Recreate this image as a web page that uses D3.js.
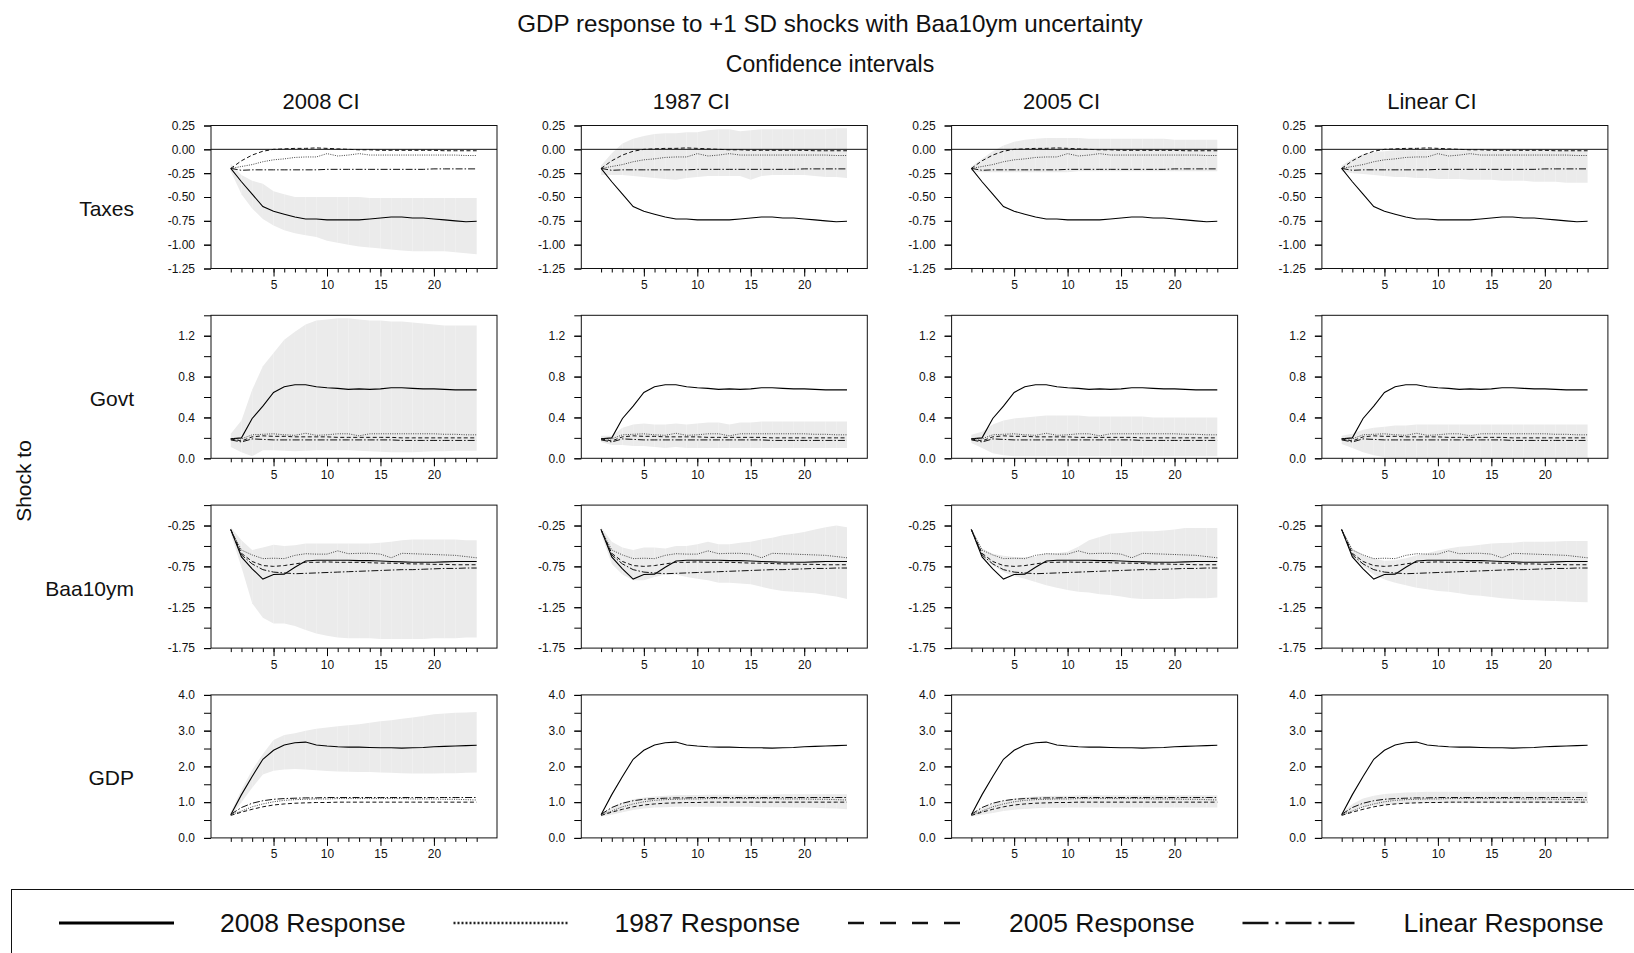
<!DOCTYPE html>
<html>
<head>
<meta charset="utf-8">
<script src="https://cdn.jsdelivr.net/npm/d3@7"></script>
<style>
  body { margin: 0; background: #fff; }
  text { font-family: "Liberation Sans", Arial, sans-serif; fill: #111; }
</style>
</head>
<body>
<div id="vis"></div>
<script>
// ---- data ----
const horizons = [1,2,3,4,5,6,7,8,9,10,11,12,13,14,15,16,17,18,19,20,21,22,23,24];
const rowNames = ["Taxes", "Govt", "Baa10ym", "GDP"];
const colNames = ["2008 CI", "1987 CI", "2005 CI", "Linear CI"];
const legendNames = ["2008 Response", "1987 Response", "2005 Response", "Linear Response"];

// point responses (same in every column of a row)
const taxes2008   = [-0.20,-0.34,-0.47,-0.60,-0.65,-0.68,-0.71,-0.73,-0.73,-0.74,-0.74,-0.74,-0.74,-0.73,-0.72,-0.71,-0.71,-0.72,-0.72,-0.73,-0.74,-0.75,-0.76,-0.755];
const taxes1987   = [-0.20,-0.18,-0.16,-0.13,-0.11,-0.10,-0.085,-0.08,-0.08,-0.045,-0.07,-0.06,-0.045,-0.06,-0.06,-0.06,-0.06,-0.06,-0.06,-0.06,-0.06,-0.06,-0.065,-0.065];
const taxes2005   = [-0.20,-0.12,-0.06,-0.02,0.00,0.005,0.01,0.01,0.015,0.01,0.005,0.0,-0.005,-0.005,-0.01,-0.01,-0.01,-0.01,-0.01,-0.01,-0.015,-0.015,-0.015,-0.015];
const taxesLinear = [-0.20,-0.22,-0.215,-0.215,-0.215,-0.215,-0.215,-0.215,-0.215,-0.21,-0.21,-0.21,-0.21,-0.21,-0.21,-0.21,-0.21,-0.21,-0.21,-0.205,-0.205,-0.205,-0.205,-0.205];

const govt2008   = [0.19,0.20,0.39,0.51,0.645,0.70,0.72,0.72,0.70,0.69,0.685,0.675,0.68,0.675,0.68,0.69,0.69,0.685,0.68,0.68,0.675,0.67,0.67,0.67];
const govt1987   = [0.19,0.19,0.23,0.235,0.24,0.23,0.225,0.245,0.225,0.23,0.24,0.24,0.22,0.24,0.24,0.24,0.24,0.24,0.24,0.24,0.235,0.235,0.23,0.23];
const govt2005   = [0.19,0.17,0.21,0.22,0.215,0.215,0.21,0.21,0.21,0.21,0.205,0.205,0.205,0.205,0.205,0.205,0.2,0.2,0.2,0.2,0.2,0.2,0.2,0.2];
const govtLinear = [0.18,0.16,0.19,0.185,0.18,0.18,0.18,0.18,0.18,0.18,0.18,0.18,0.18,0.18,0.18,0.18,0.175,0.175,0.175,0.175,0.175,0.175,0.175,0.175];

const baa2008   = [-0.30,-0.635,-0.78,-0.905,-0.85,-0.845,-0.76,-0.685,-0.675,-0.675,-0.675,-0.675,-0.68,-0.68,-0.685,-0.69,-0.695,-0.70,-0.70,-0.70,-0.695,-0.69,-0.69,-0.69];
const baa1987   = [-0.30,-0.55,-0.61,-0.655,-0.65,-0.655,-0.615,-0.595,-0.60,-0.60,-0.56,-0.595,-0.59,-0.59,-0.60,-0.645,-0.59,-0.595,-0.60,-0.605,-0.61,-0.615,-0.63,-0.645];
const baa2005   = [-0.30,-0.59,-0.69,-0.74,-0.75,-0.74,-0.72,-0.70,-0.70,-0.695,-0.70,-0.70,-0.70,-0.705,-0.71,-0.71,-0.715,-0.72,-0.72,-0.725,-0.725,-0.73,-0.73,-0.73];
const baaLinear = [-0.30,-0.61,-0.72,-0.79,-0.82,-0.83,-0.84,-0.835,-0.83,-0.825,-0.82,-0.815,-0.81,-0.805,-0.80,-0.795,-0.79,-0.79,-0.785,-0.78,-0.775,-0.775,-0.77,-0.77];

const gdp2008   = [0.65,1.21,1.72,2.20,2.45,2.60,2.66,2.68,2.60,2.57,2.55,2.54,2.54,2.53,2.52,2.52,2.51,2.52,2.53,2.55,2.56,2.57,2.58,2.59];
const gdp1987   = [0.65,0.75,0.87,0.95,1.01,1.05,1.07,1.08,1.09,1.09,1.10,1.10,1.10,1.10,1.10,1.10,1.10,1.09,1.09,1.09,1.08,1.08,1.07,1.06];
const gdp2005   = [0.63,0.72,0.80,0.87,0.92,0.95,0.97,0.98,0.99,0.99,1.0,1.0,1.0,1.0,1.0,1.0,1.0,1.0,1.0,1.0,1.0,1.0,1.0,1.0];
const gdpLinear = [0.66,0.85,0.97,1.04,1.08,1.10,1.11,1.12,1.12,1.13,1.13,1.13,1.13,1.13,1.13,1.13,1.13,1.13,1.13,1.13,1.13,1.13,1.13,1.13];

// confidence bands (lo / hi), one per column
const taxesCI2008Lo   = [-0.23,-0.47,-0.62,-0.73,-0.80,-0.85,-0.88,-0.90,-0.92,-0.96,-0.98,-1.00,-1.02,-1.03,-1.04,-1.05,-1.06,-1.07,-1.07,-1.07,-1.07,-1.08,-1.09,-1.10];
const taxesCI2008Hi   = [-0.15,-0.27,-0.33,-0.36,-0.44,-0.47,-0.50,-0.50,-0.50,-0.50,-0.50,-0.50,-0.50,-0.51,-0.51,-0.51,-0.51,-0.51,-0.51,-0.51,-0.51,-0.51,-0.51,-0.51];
const taxesCI1987Lo   = [-0.27,-0.27,-0.27,-0.28,-0.29,-0.30,-0.31,-0.32,-0.30,-0.29,-0.28,-0.28,-0.28,-0.28,-0.32,-0.28,-0.27,-0.27,-0.27,-0.27,-0.28,-0.29,-0.29,-0.30];
const taxesCI1987Hi   = [-0.17,-0.04,0.06,0.11,0.14,0.16,0.17,0.17,0.18,0.18,0.20,0.21,0.21,0.19,0.20,0.21,0.21,0.21,0.21,0.21,0.21,0.21,0.22,0.22];
const taxesCI2005Lo   = [-0.23,-0.24,-0.24,-0.24,-0.24,-0.24,-0.24,-0.24,-0.24,-0.24,-0.23,-0.23,-0.23,-0.23,-0.23,-0.23,-0.23,-0.23,-0.23,-0.23,-0.23,-0.23,-0.23,-0.23];
const taxesCI2005Hi   = [-0.18,-0.10,-0.02,0.04,0.08,0.10,0.11,0.12,0.12,0.12,0.12,0.11,0.11,0.11,0.11,0.11,0.11,0.11,0.11,0.10,0.10,0.10,0.10,0.10];
const taxesCILinearLo = [-0.23,-0.25,-0.26,-0.27,-0.28,-0.29,-0.29,-0.30,-0.30,-0.31,-0.31,-0.31,-0.32,-0.32,-0.32,-0.33,-0.33,-0.33,-0.34,-0.34,-0.34,-0.35,-0.35,-0.35];
const taxesCILinearHi = [-0.17,-0.10,-0.05,-0.03,-0.02,-0.01,-0.01,-0.01,-0.01,-0.01,-0.01,-0.01,-0.01,-0.01,-0.01,-0.01,-0.01,-0.01,-0.01,-0.01,-0.01,-0.01,-0.01,-0.01];

const govtCI2008Lo   = [0.11,0.06,0.02,0.08,0.08,0.075,0.07,0.075,0.08,0.08,0.08,0.08,0.075,0.07,0.065,0.06,0.06,0.06,0.065,0.07,0.07,0.075,0.075,0.075];
const govtCI2008Hi   = [0.24,0.37,0.67,0.90,1.03,1.16,1.24,1.31,1.35,1.36,1.37,1.37,1.36,1.35,1.35,1.34,1.34,1.33,1.32,1.31,1.30,1.30,1.30,1.30];
const govtCI1987Lo   = [0.16,0.13,0.13,0.12,0.12,0.11,0.10,0.11,0.10,0.10,0.10,0.10,0.10,0.10,0.10,0.10,0.10,0.10,0.10,0.10,0.10,0.10,0.10,0.10];
const govtCI1987Hi   = [0.22,0.22,0.30,0.33,0.34,0.33,0.33,0.34,0.33,0.34,0.35,0.35,0.33,0.35,0.35,0.36,0.36,0.36,0.36,0.36,0.36,0.36,0.36,0.36];
const govtCI2005Lo   = [0.15,0.10,0.05,0.03,0.02,0.02,0.02,0.02,0.02,0.02,0.02,0.02,0.02,0.02,0.02,0.02,0.02,0.02,0.02,0.02,0.02,0.02,0.02,0.02];
const govtCI2005Hi   = [0.23,0.26,0.33,0.37,0.39,0.40,0.41,0.42,0.42,0.42,0.42,0.41,0.41,0.41,0.41,0.41,0.41,0.40,0.40,0.40,0.40,0.40,0.40,0.40];
const govtCILinearLo = [0.14,0.10,0.06,0.03,0.01,0.00,-0.01,-0.01,-0.02,-0.02,-0.02,-0.03,-0.03,-0.03,-0.03,-0.03,-0.03,-0.03,-0.03,-0.03,-0.03,-0.03,-0.03,-0.03];
const govtCILinearHi = [0.22,0.24,0.28,0.30,0.31,0.32,0.32,0.33,0.33,0.33,0.33,0.33,0.33,0.33,0.33,0.33,0.33,0.33,0.33,0.33,0.33,0.33,0.33,0.33];

const baaCI2008Lo   = [-0.35,-0.76,-1.20,-1.38,-1.45,-1.45,-1.48,-1.53,-1.57,-1.60,-1.62,-1.63,-1.63,-1.63,-1.64,-1.64,-1.64,-1.64,-1.64,-1.63,-1.63,-1.63,-1.62,-1.62];
const baaCI2008Hi   = [-0.27,-0.43,-0.55,-0.52,-0.485,-0.50,-0.49,-0.47,-0.47,-0.47,-0.47,-0.47,-0.47,-0.47,-0.46,-0.45,-0.43,-0.42,-0.42,-0.42,-0.42,-0.42,-0.43,-0.43];
const baaCI1987Lo   = [-0.35,-0.72,-0.85,-0.92,-0.92,-0.88,-0.85,-0.85,-0.88,-0.90,-0.92,-0.95,-0.95,-0.96,-0.97,-1.00,-1.03,-1.05,-1.06,-1.07,-1.08,-1.10,-1.12,-1.15];
const baaCI1987Hi   = [-0.27,-0.45,-0.52,-0.55,-0.52,-0.52,-0.53,-0.50,-0.50,-0.48,-0.45,-0.48,-0.48,-0.46,-0.45,-0.42,-0.40,-0.37,-0.35,-0.33,-0.30,-0.27,-0.25,-0.27];
const baaCI2005Lo   = [-0.32,-0.635,-0.74,-0.82,-0.87,-0.90,-0.94,-0.98,-1.01,-1.04,-1.06,-1.07,-1.09,-1.10,-1.12,-1.14,-1.15,-1.15,-1.15,-1.15,-1.14,-1.14,-1.14,-1.13];
const baaCI2005Hi   = [-0.28,-0.53,-0.595,-0.62,-0.635,-0.635,-0.63,-0.59,-0.59,-0.57,-0.51,-0.43,-0.39,-0.35,-0.34,-0.33,-0.32,-0.32,-0.31,-0.30,-0.28,-0.28,-0.28,-0.28];
const baaCILinearLo = [-0.32,-0.635,-0.75,-0.85,-0.91,-0.95,-0.98,-1.01,-1.03,-1.05,-1.06,-1.08,-1.10,-1.11,-1.125,-1.14,-1.15,-1.16,-1.165,-1.17,-1.175,-1.18,-1.185,-1.19];
const baaCILinearHi = [-0.28,-0.53,-0.615,-0.655,-0.68,-0.675,-0.65,-0.615,-0.59,-0.555,-0.53,-0.51,-0.50,-0.485,-0.47,-0.465,-0.46,-0.45,-0.45,-0.45,-0.445,-0.44,-0.44,-0.44];

const gdpCI2008Lo   = [0.60,1.00,1.40,1.77,1.88,1.91,1.93,1.91,1.89,1.87,1.86,1.85,1.84,1.84,1.83,1.82,1.81,1.80,1.80,1.80,1.81,1.81,1.82,1.83];
const gdpCI2008Hi   = [0.72,1.35,1.90,2.35,2.74,2.88,2.93,3.00,3.05,3.09,3.12,3.15,3.18,3.22,3.26,3.29,3.33,3.37,3.41,3.46,3.48,3.50,3.51,3.52];
const gdpCI1987Lo   = [0.60,0.65,0.72,0.78,0.82,0.85,0.86,0.87,0.87,0.87,0.87,0.87,0.87,0.87,0.87,0.86,0.86,0.86,0.85,0.85,0.84,0.83,0.82,0.80];
const gdpCI1987Hi   = [0.68,0.85,1.00,1.08,1.13,1.16,1.18,1.19,1.20,1.20,1.21,1.21,1.21,1.21,1.21,1.21,1.21,1.22,1.22,1.22,1.22,1.22,1.22,1.22];
const gdpCI2005Lo   = [0.60,0.65,0.70,0.75,0.79,0.81,0.83,0.84,0.84,0.85,0.85,0.85,0.85,0.85,0.85,0.85,0.85,0.85,0.85,0.85,0.85,0.85,0.85,0.85];
const gdpCI2005Hi   = [0.68,0.82,0.95,1.04,1.10,1.14,1.16,1.17,1.18,1.18,1.19,1.19,1.19,1.19,1.19,1.19,1.19,1.19,1.19,1.19,1.19,1.19,1.19,1.19];
const gdpCILinearLo = [0.62,0.75,0.85,0.90,0.93,0.95,0.96,0.97,0.97,0.97,0.97,0.97,0.97,0.97,0.97,0.97,0.97,0.97,0.97,0.97,0.97,0.97,0.97,0.97];
const gdpCILinearHi = [0.70,0.95,1.10,1.18,1.23,1.25,1.27,1.28,1.29,1.29,1.29,1.29,1.29,1.29,1.29,1.29,1.29,1.29,1.29,1.29,1.29,1.29,1.29,1.29];

// axes: domains, tick positions and labelled ticks per row
const taxesDomain = [-1.25, 0.25];
const taxesTicks  = [-1.25,-1.0,-0.75,-0.5,-0.25,0.0,0.25];
const taxesLabels = [-1.25,-1.0,-0.75,-0.5,-0.25,0.0,0.25];
const govtDomain  = [0, 1.4];
const govtTicks   = [0,0.2,0.4,0.6,0.8,1.0,1.2,1.4];
const govtLabels  = [0,0.4,0.8,1.2];
const baaDomain   = [-1.75, 0];
const baaTicks    = [-1.75,-1.5,-1.25,-1.0,-0.75,-0.5,-0.25,0];
const baaLabels   = [-1.75,-1.25,-0.75,-0.25];
const gdpDomain   = [0, 4];
const gdpTicks    = [0,0.5,1,1.5,2,2.5,3,3.5,4];
const gdpLabels   = [0,1,2,3,4];
const xLabels     = [5,10,15,20];

// ---- layout ----
const WIDTH = 1634, HEIGHT = 953;
const PANEL = { left: 211, top: 125.5, w: 286, h: 143, colStep: 370.3, rowStep: 189.8 };
const FONT = "'Liberation Sans', Arial, sans-serif";

const LINE_STYLES = [
  { stroke: "#000", width: 1.1, dash: null },        // 2008 solid
  { stroke: "#444", width: 1.0, dash: "1,1.3" },     // 1987 dotted
  { stroke: "#111", width: 1.0, dash: "4,2.5" },     // 2005 dashed
  { stroke: "#111", width: 1.0, dash: "7,2,1.5,2" }  // linear dash-dot
];

const rows = [
  { name: rowNames[0], domain: taxesDomain, ticks: taxesTicks, labels: taxesLabels, fmt: d3.format(".2f"),
    lines: [taxes2008, taxes1987, taxes2005, taxesLinear],
    bands: [[taxesCI2008Lo, taxesCI2008Hi], [taxesCI1987Lo, taxesCI1987Hi], [taxesCI2005Lo, taxesCI2005Hi], [taxesCILinearLo, taxesCILinearHi]] },
  { name: rowNames[1], domain: govtDomain, ticks: govtTicks, labels: govtLabels, fmt: d3.format(".1f"),
    lines: [govt2008, govt1987, govt2005, govtLinear],
    bands: [[govtCI2008Lo, govtCI2008Hi], [govtCI1987Lo, govtCI1987Hi], [govtCI2005Lo, govtCI2005Hi], [govtCILinearLo, govtCILinearHi]] },
  { name: rowNames[2], domain: baaDomain, ticks: baaTicks, labels: baaLabels, fmt: d3.format(".2f"),
    lines: [baa2008, baa1987, baa2005, baaLinear],
    bands: [[baaCI2008Lo, baaCI2008Hi], [baaCI1987Lo, baaCI1987Hi], [baaCI2005Lo, baaCI2005Hi], [baaCILinearLo, baaCILinearHi]] },
  { name: rowNames[3], domain: gdpDomain, ticks: gdpTicks, labels: gdpLabels, fmt: d3.format(".1f"),
    lines: [gdp2008, gdp1987, gdp2005, gdpLinear],
    bands: [[gdpCI2008Lo, gdpCI2008Hi], [gdpCI1987Lo, gdpCI1987Hi], [gdpCI2005Lo, gdpCI2005Hi], [gdpCILinearLo, gdpCILinearHi]] }
];

const svg = d3.select("#vis").append("svg")
  .attr("width", WIDTH).attr("height", HEIGHT);

// titles
svg.append("text").attr("x", 830).attr("y", 32).attr("text-anchor", "middle")
  .style("font-size", "24.2px").text("GDP response to +1 SD shocks with Baa10ym uncertainty");
svg.append("text").attr("x", 830).attr("y", 72).attr("text-anchor", "middle")
  .style("font-size", "23px").text("Confidence intervals");

colNames.forEach((c, j) => {
  svg.append("text").attr("x", PANEL.left + j * PANEL.colStep + 110).attr("y", 109)
    .attr("text-anchor", "middle").style("font-size", "22px").text(c);
});

svg.append("text")
  .attr("transform", "translate(31,481) rotate(-90)")
  .attr("text-anchor", "middle").style("font-size", "21px").text("Shock to");

const x = d3.scaleLinear().domain([-0.85, 25.9]).range([0, PANEL.w]);
const hyphen = f => d => f(d).replace("\u2212", "-");

rows.forEach((row, i) => {
  const top = PANEL.top + i * PANEL.rowStep;
  svg.append("text").attr("x", 134).attr("y", top + PANEL.h / 2 + 19)
    .attr("text-anchor", "end").style("font-size", "21px").text(row.name);

  const y = d3.scaleLinear().domain(row.domain).range([PANEL.h, 0]);

  colNames.forEach((c, j) => {
    const g = svg.append("g")
      .attr("transform", `translate(${PANEL.left + j * PANEL.colStep},${top})`);

    const clipId = `clip-${i}-${j}`;
    g.append("clipPath").attr("id", clipId).append("rect")
      .attr("width", PANEL.w).attr("height", PANEL.h);
    const inner = g.append("g").attr("clip-path", `url(#${clipId})`);

    // band, drawn one step at a time (leaves the faint seams of the original)
    const band = horizons.map((h, k) => ({ h, lo: row.bands[j][0][k], hi: row.bands[j][1][k] }));
    const area = d3.area().x(d => x(d.h)).y0(d => y(d.lo)).y1(d => y(d.hi));
    inner.selectAll("path.band")
      .data(d3.pairs(band))
      .join("path")
      .attr("class", "band")
      .attr("fill", "#ebebeb")
      .attr("d", d => area(d));

    // zero line
    if (row.domain[0] < 0 && row.domain[1] > 0) {
      inner.append("line").attr("x1", 0).attr("x2", PANEL.w)
        .attr("y1", y(0)).attr("y2", y(0)).attr("stroke", "#111").attr("stroke-width", 1);
    }

    // response lines
    row.lines.forEach((vals, s) => {
      const st = LINE_STYLES[s];
      inner.append("path")
        .datum(vals)
        .attr("fill", "none")
        .attr("stroke", st.stroke)
        .attr("stroke-width", st.width)
        .attr("stroke-dasharray", st.dash)
        .attr("d", d3.line().x((d, k) => x(horizons[k])).y(d => y(d)));
    });

    // y axis: all ticks, then labels
    g.append("g")
      .call(d3.axisLeft(y).tickValues(row.ticks).tickSize(7).tickFormat(""))
      .call(a => a.select(".domain").remove());
    g.append("g")
      .call(d3.axisLeft(y).tickValues(row.labels).tickSize(7).tickPadding(9).tickFormat(hyphen(row.fmt)))
      .call(a => a.select(".domain").remove())
      .call(a => a.selectAll("text").style("font-size", "12px").attr("fill", "#111").style("font-family", FONT));

    // x axis
    g.append("g").attr("transform", `translate(0,${PANEL.h})`)
      .call(d3.axisBottom(x).tickValues(horizons).tickSize(4).tickFormat(""))
      .call(a => a.select(".domain").remove());
    g.append("g").attr("transform", `translate(0,${PANEL.h})`)
      .call(d3.axisBottom(x).tickValues(xLabels).tickSize(8).tickPadding(4).tickFormat(d3.format("d")))
      .call(a => a.select(".domain").remove())
      .call(a => a.selectAll("text").style("font-size", "12px").attr("fill", "#111").style("font-family", FONT));

    // frame
    g.append("rect").attr("width", PANEL.w).attr("height", PANEL.h)
      .attr("fill", "none").attr("stroke", "#111").attr("stroke-width", 1);
  });
});

// legend
const legend = svg.append("g");
legend.append("rect").attr("x", 11.5).attr("y", 889.5).attr("width", 1640).attr("height", 100)
  .attr("fill", "none").attr("stroke", "#111").attr("stroke-width", 1);
const LEGEND_STYLES = [
  { width: 3, dash: null, color: "#000" },
  { width: 2.5, dash: "2,2", color: "#222" },
  { width: 2.5, dash: "16,16", color: "#111" },
  { width: 2.5, dash: "26,7,3,7", color: "#111" }
];
legendNames.forEach((name, s) => {
  const x0 = 59 + s * 394.5;
  const st = LEGEND_STYLES[s];
  legend.append("line").attr("x1", x0).attr("x2", x0 + 115).attr("y1", 923).attr("y2", 923)
    .attr("stroke", st.color).attr("stroke-width", st.width).attr("stroke-dasharray", st.dash);
  legend.append("text").attr("x", x0 + 161).attr("y", 932).style("font-size", "26.5px").text(name);
});
</script>
</body>
</html>
